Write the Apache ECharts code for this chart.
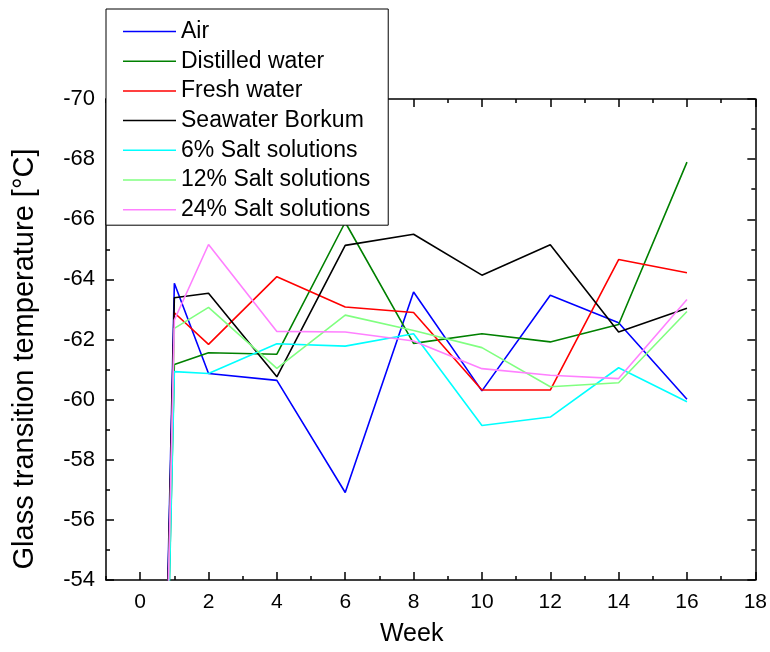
<!DOCTYPE html>
<html>
<head>
<meta charset="utf-8">
<script src="https://cdn.jsdelivr.net/npm/echarts@6/dist/echarts.min.js"></script>
<style>
html,body{margin:0;padding:0;background:#fff;}
#chart{width:770px;height:652px;}
</style>
</head>
<body>
<div id="chart"></div>
<script>
// Weeks (week 0 point lies far below the visible range; its value is estimated from where the lines leave the plot)
var weeks = [0, 1, 2, 4, 6, 8, 10, 12, 14, 16];
var air            = [-12, -63.87, -60.87, -60.64, -56.91, -63.58, -60.29, -63.47, -62.56, -60.01];
var distilledWater = [-12, -61.17, -61.56, -61.51, -65.90, -61.87, -62.19, -61.92, -62.50, -67.90];
var freshWater     = [-12, -62.89, -61.84, -64.09, -63.08, -62.90, -60.32, -60.32, -64.66, -64.22];
var seawater       = [-12, -63.39, -63.54, -60.76, -65.13, -65.50, -64.14, -65.15, -62.25, -63.04];
var salt6          = [-12, -60.93, -60.87, -61.86, -61.78, -62.19, -59.14, -59.42, -61.06, -59.93];
var salt12         = [-12, -62.37, -63.07, -61.04, -62.81, -62.30, -61.73, -60.43, -60.56, -62.93];
var salt24         = [-12, -62.65, -65.16, -62.27, -62.25, -61.95, -61.03, -60.81, -60.70, -63.33];

var seriesNames = ['Air', 'Distilled water', 'Fresh water', 'Seawater Borkum',
                   '6% Salt solutions', '12% Salt solutions', '24% Salt solutions'];
var seriesValues = [air, distilledWater, freshWater, seawater, salt6, salt12, salt24];
var seriesColors = ['#0000ff', '#008000', '#ff0000', '#000000', '#00ffff', '#80ff80', '#ff80ff'];

var xMajorTicks = [0, 2, 4, 6, 8, 10, 12, 14, 16, 18];
var xMinorTicks = [-1, 1, 3, 5, 7, 9, 11, 13, 15, 17];

var xTitle = 'Week';
var yTitle = 'Glass transition temperature [°C]';

var FONT = '"Liberation Sans", Arial, sans-serif';

function pairs(vals) {
  return weeks.map(function (w, i) { return [w, vals[i]]; });
}

var lineAxis = { show: true, onZero: false, lineStyle: { color: '#000', width: 1.5 } };

function xAxisDef(pos, ticks, len, withLabels, withLine) {
  return {
    type: 'value', position: pos, min: -1, max: 18,
    axisLine: withLine ? lineAxis : { show: false, onZero: false },
    axisTick: { show: true, inside: true, length: len, customValues: ticks,
                lineStyle: { color: '#000', width: 1.5 } },
    axisLabel: withLabels ? { show: true, customValues: ticks, fontSize: 21, color: '#000',
                fontFamily: FONT, margin: 12 } : { show: false },
    splitLine: { show: false }
  };
}

var xAxes = [
  xAxisDef('bottom', xMajorTicks, 8, true, true),
  xAxisDef('bottom', xMinorTicks, 4, false, false),
  xAxisDef('top', xMajorTicks, 8, false, true),
  xAxisDef('top', xMinorTicks, 4, false, false)
];
xAxes[0].name = xTitle;
xAxes[0].nameLocation = 'middle';
xAxes[0].nameGap = 42;
xAxes[0].nameTextStyle = { fontSize: 25, color: '#000', fontFamily: FONT, padding: [0, 38, 0, 0] };

function yAxisDef(pos, withLabels) {
  return {
    type: 'value', position: pos, min: -70, max: -54, interval: 2, inverse: true,
    axisLine: lineAxis,
    axisTick: { show: true, inside: true, length: 8, lineStyle: { color: '#000', width: 1.5 } },
    minorTick: { show: true, splitNumber: 2, length: 4, lineStyle: { color: '#000', width: 1.5 } },
    axisLabel: withLabels ? { show: true, fontSize: 22, color: '#000', fontFamily: FONT, margin: 11 } : { show: false },
    splitLine: { show: false }
  };
}
var yAxes = [yAxisDef('left', true), yAxisDef('right', false)];

var series = seriesNames.map(function (n, i) {
  return {
    name: n, type: 'line', xAxisIndex: 0, yAxisIndex: 0,
    data: pairs(seriesValues[i]),
    showSymbol: false, symbol: 'none', clip: true,
    lineStyle: { color: seriesColors[i], width: 1.6 },
    itemStyle: { color: seriesColors[i] },
    emphasis: { disabled: true }
  };
});

var chart = echarts.init(document.getElementById('chart'), null, { renderer: 'canvas' });
chart.setOption({
  animation: false,
  backgroundColor: '#fff',
  grid: { left: 106, top: 99, width: 651, height: 482, containLabel: false },
  xAxis: xAxes,
  yAxis: yAxes,
  graphic: [{
    type: 'text',
    x: 25, y: 359,
    rotation: Math.PI / 2,
    style: {
      text: yTitle,
      align: 'center', verticalAlign: 'middle',
      fontSize: 29, fontFamily: FONT, fill: '#000'
    }
  }],
  legend: {
    data: seriesNames,
    orient: 'vertical',
    left: 106, top: 9,
    z: 10,
    icon: 'rect',
    itemWidth: 53, itemHeight: 1.5,
    itemGap: 6.7,
    padding: [11, 18, 4, 17],
    backgroundColor: '#fff',
    borderColor: '#000', borderWidth: 1,
    textStyle: { fontSize: 23, lineHeight: 22, color: '#000', fontFamily: FONT },
    selectedMode: false
  },
  series: series
});
</script>
</body>
</html>
